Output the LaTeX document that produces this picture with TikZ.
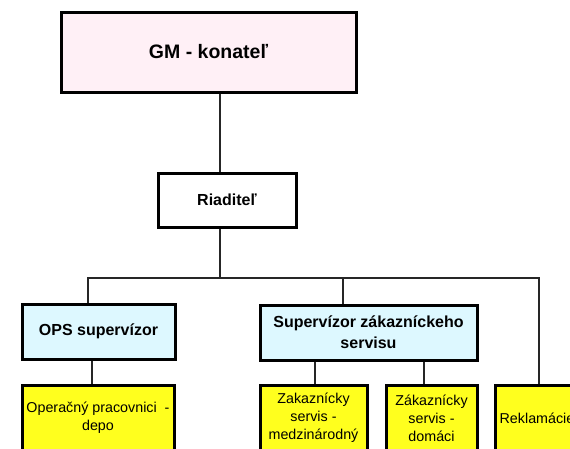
\documentclass[tikz,border=0pt]{standalone}
\usepackage{fontspec}
\setmainfont{Liberation Sans}
\definecolor{gmpink}{HTML}{FFF0F6}
\definecolor{supcyan}{HTML}{DDF8FF}
\definecolor{wkyellow}{HTML}{FFFF1E}
\tikzset{
  box/.style={draw=black, line width=3pt, inner sep=0pt, align=center},
  topbox/.style={box, font=\bfseries\fontsize{16}{21}\selectfont},
  yellowbox/.style={box, fill=wkyellow, font=\fontsize{14.3}{18}\selectfont, minimum height=66pt},
  conn/.style={draw=black!85, line width=1.2pt}
}
\begin{document}
\begin{tikzpicture}[x=1pt,y=-1pt]
\useasboundingbox (0,0) rectangle (570,448);
\clip (0,0) rectangle (570,448);
\node[box, fill=gmpink, minimum width=295pt, minimum height=80pt,
      font=\bfseries\fontsize{19.5}{23}\selectfont] (gm) at (208.5,52) {GM - konateľ};
\node[topbox, fill=white, minimum width=138pt, minimum height=54pt] (riad) at (227,200) {Riaditeľ};
\node[topbox, fill=supcyan, minimum width=153pt, minimum height=55pt] (ops) at (98.5,331.5) {OPS supervízor};
\node[topbox, fill=supcyan, minimum width=217pt, minimum height=55pt] (sup) at (368.5,332.5) {Supervízor zákazníckeho\\servisu};
\node[yellowbox, minimum width=152pt] (oper) at (98,418) {Operačný pracovnici\ \ -\\depo};
\node[yellowbox, minimum width=107pt] (med) at (313.5,418) {Zakaznícky\\servis -\\medzinárodný};
\node[yellowbox, minimum width=91pt] (dom) at (431.5,418) {Zákaznícky\\servis -\\domáci};
\node[yellowbox, minimum width=84pt] (rek) at (537,418) {Reklamácie};
% connector x positions
\coordinate (tx) at (220,0);
\coordinate (bus) at (0,278);
\coordinate (xops) at (88,0);
\coordinate (xoper) at (92,0);
\coordinate (xsup) at (343,0);
\coordinate (xmed) at (315,0);
\coordinate (xdom) at (424,0);
\coordinate (xrek) at (539,0);
\draw[conn] (gm.south -| tx) -- (riad.north -| tx);
\draw[conn] (riad.south -| tx) -- (bus -| tx);
\draw[conn] (ops.north -| xops) -- (bus -| xops) -- (bus -| xrek) -- (rek.north -| xrek);
\draw[conn] (bus -| xsup) -- (sup.north -| xsup);
\draw[conn] (ops.south -| xoper) -- (oper.north -| xoper);
\draw[conn] (sup.south -| xmed) -- (med.north -| xmed);
\draw[conn] (sup.south -| xdom) -- (dom.north -| xdom);
\end{tikzpicture}
\end{document}
